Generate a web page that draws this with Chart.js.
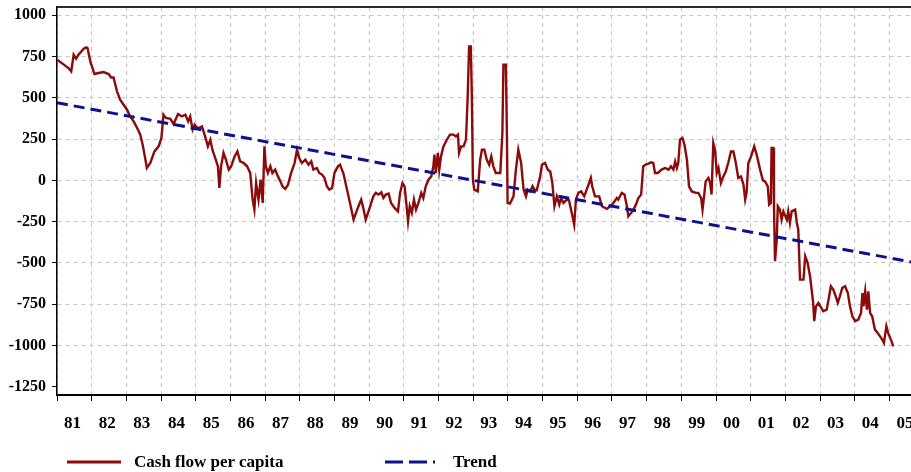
<!DOCTYPE html>
<html>
<head>
<meta charset="utf-8">
<script src="https://cdn.jsdelivr.net/npm/chart.js@4.4.1/dist/chart.umd.min.js"></script>
<style>
html,body{margin:0;padding:0;background:#fff;}
#wrap{position:relative;width:911px;height:472px;overflow:hidden;}
#legend{position:absolute;left:0;top:450px;width:911px;height:24px;font:bold 17px "Liberation Serif","Times New Roman",serif;color:#000;}
.item{position:absolute;top:0;height:24px;display:flex;align-items:center;white-space:nowrap;}
.item svg{display:block;}
</style>
</head>
<body>
<div id="wrap">
<canvas id="c" width="911" height="472"></canvas>
<div id="legend">
  <div class="item" style="left:67px"><svg width="54" height="6"><line x1="0" y1="3" x2="54" y2="3" stroke="#8b0a0a" stroke-width="3"/></svg><span style="margin-left:13px">Cash flow per capita</span></div>
  <div class="item" style="left:385px"><svg width="50" height="6"><line x1="0" y1="3" x2="50" y2="3" stroke="#0d128c" stroke-width="3" stroke-dasharray="18 6 18 6 3 6"/></svg><span style="margin-left:18px">Trend</span></div>
</div>
</div>
<script>
// ---- data ----
const years = [
1981.00,1981.14,1981.33,1981.41,1981.48,1981.55,1981.62,1981.77,1981.84,1981.88,1981.96,
1982.08,1982.20,1982.34,1982.49,1982.56,1982.63,1982.73,1982.82,1982.92,
1983.02,1983.11,1983.21,1983.31,1983.40,1983.47,1983.54,1983.59,1983.69,1983.81,1983.93,
1984.01,1984.07,1984.14,1984.27,1984.36,1984.49,1984.60,1984.70,1984.78,1984.84,1984.91,1984.97,
1985.03,1985.08,1985.18,1985.27,1985.35,1985.42,1985.48,1985.56,1985.64,1985.68,1985.73,1985.80,1985.87,1985.95,
1986.02,1986.12,1986.20,1986.28,1986.38,1986.48,1986.57,1986.64,1986.69,1986.74,1986.81,1986.87,1986.93,1986.98,
1987.02,1987.08,1987.15,1987.21,1987.29,1987.37,1987.44,1987.50,1987.58,1987.66,1987.75,1987.85,1987.92,1987.98,
1988.06,1988.16,1988.25,1988.33,1988.39,1988.49,1988.56,1988.64,1988.71,1988.78,1988.85,1988.93,
1989.00,1989.10,1989.16,1989.26,1989.36,1989.45,1989.55,1989.62,1989.69,1989.77,1989.84,1989.90,1989.98,
1990.06,1990.12,1990.19,1990.27,1990.35,1990.41,1990.48,1990.56,1990.63,1990.73,1990.83,1990.89,1990.96,
1991.02,1991.06,1991.12,1991.17,1991.23,1991.29,1991.35,1991.42,1991.50,1991.56,1991.63,1991.71,1991.79,1991.85,1991.88,1991.92,1991.98,
1992.02,1992.07,1992.14,1992.24,1992.33,1992.43,1992.50,1992.56,1992.59,1992.65,1992.72,1992.79,1992.84,1992.88,1992.93,1992.96,1992.99,
1993.03,1993.13,1993.20,1993.25,1993.32,1993.39,1993.46,1993.52,1993.58,1993.65,1993.78,1993.84,1993.87,1993.94,1993.97,1993.99,
1994.06,1994.16,1994.23,1994.30,1994.38,1994.45,1994.52,1994.57,1994.64,1994.71,1994.76,1994.83,1994.93,1994.98,
1995.07,1995.15,1995.22,1995.28,1995.34,1995.41,1995.48,1995.53,1995.60,1995.70,1995.76,1995.84,1995.91,1995.96,
1996.03,1996.11,1996.20,1996.27,1996.34,1996.39,1996.43,1996.51,1996.63,1996.71,1996.85,1996.95,
1997.04,1997.14,1997.18,1997.28,1997.36,1997.43,1997.47,1997.55,1997.62,1997.69,1997.76,1997.84,1997.90,1997.97,
1998.05,1998.13,1998.19,1998.24,1998.32,1998.43,1998.53,1998.63,1998.70,1998.77,1998.82,1998.87,1998.91,1998.96,
1999.03,1999.09,1999.16,1999.22,1999.30,1999.42,1999.49,1999.57,1999.61,1999.66,1999.70,1999.78,1999.83,1999.87,1999.92,1999.97,
2000.02,2000.07,2000.14,2000.21,2000.28,2000.35,2000.43,2000.50,2000.57,2000.64,2000.72,2000.79,2000.84,2000.88,2000.93,
2001.01,2001.10,2001.17,2001.27,2001.35,2001.41,2001.49,2001.53,2001.58,2001.60,2001.65,2001.67,2001.70,2001.75,2001.78,2001.84,2001.89,2001.94,
2002.04,2002.08,2002.13,2002.18,2002.28,2002.33,2002.37,2002.42,2002.52,2002.57,2002.64,2002.71,2002.80,2002.83,2002.88,2002.95,
2003.09,2003.19,2003.26,2003.31,2003.38,2003.45,2003.51,2003.57,2003.64,2003.72,2003.80,2003.86,2003.93,
2004.01,2004.10,2004.18,2004.22,2004.25,2004.30,2004.35,2004.39,2004.44,2004.50,2004.58,2004.66,2004.79,2004.84,2004.91,2004.96,
2005.06,2005.11
];
const cashFlow = [
731,710,680,660,761,737,761,797,805,801,720,
644,650,656,644,623,623,539,488,458,
428,387,357,317,277,216,136,75,105,175,206,
257,398,378,373,341,402,387,398,357,387,307,337,
320,317,327,266,206,246,186,136,85,-46,85,166,125,65,
85,145,175,115,105,85,45,-117,-177,-16,-117,4,-137,206,
85,45,85,45,65,24,-6,-36,-52,-26,45,105,186,136,
105,125,95,115,65,75,45,35,15,-36,-56,-46,
45,85,95,40,-56,-140,-238,-197,-157,-117,-177,-238,-188,
-137,-97,-76,-86,-72,-107,-86,-80,-137,-167,-188,-76,-16,
-36,-117,-248,-157,-197,-117,-177,-137,-76,-107,-36,4,24,85,156,45,166,
65,145,206,246,277,277,266,277,166,206,206,246,508,811,811,508,4,
-56,-67,125,186,186,125,95,145,85,45,45,287,700,700,287,-137,
-141,-97,65,186,105,-56,-97,-56,-67,-36,-56,-60,24,95,
105,65,54,-16,-157,-97,-147,-107,-137,-117,-120,-197,-268,-117,
-76,-67,-97,-56,-16,15,-36,-97,-97,-157,-173,-157,
-137,-107,-117,-76,-86,-157,-218,-197,-177,-147,-107,-86,85,95,
101,109,105,45,45,65,75,65,85,65,115,75,105,246,
257,216,125,-36,-67,-76,-76,-107,-177,-86,-6,15,-16,-86,226,186,
45,75,-16,24,54,105,175,175,105,15,24,-26,-117,-76,105,
145,206,156,65,0,-6,-36,-147,-137,196,196,-157,-490,-359,-157,-177,-238,-188,
-238,-188,-258,-188,-177,-258,-298,-601,-601,-460,-500,-581,-742,-853,-763,-742,
-793,-783,-702,-641,-661,-702,-742,-702,-651,-641,-682,-763,-823,
-853,-843,-803,-682,-763,-672,-783,-672,-803,-823,-904,-924,-964,-984,-884,-924,
-975,-1005
];
const trendYears = [1981, 2005.62];
const trendValues = [470, -494];
const xTickYears = [1981,1982,1983,1984,1985,1986,1987,1988,1989,1990,1991,1992,1993,1994,1995,1996,1997,1998,1999,2000,2001,2002,2003,2004,2005];
const xTickLabels = ['81','82','83','84','85','86','87','88','89','90','91','92','93','94','95','96','97','98','99','00','01','02','03','04','05'];
const yTickValues = [-1250,-1000,-750,-500,-250,0,250,500,750,1000];
const seriesNames = ['Cash flow per capita','Trend'];

// ---- chart ----
const FONT = '"Liberation Serif", "Times New Roman", serif';
const topBorder = {
  id: 'topBorder',
  afterDraw(chart) {
    const {ctx, chartArea} = chart;
    ctx.save();
    ctx.strokeStyle = '#2a2a2a';
    ctx.lineWidth = 2;
    ctx.beginPath();
    ctx.moveTo(chartArea.left, chartArea.top);
    ctx.lineTo(chartArea.right, chartArea.top);
    ctx.stroke();
    ctx.restore();
  }
};
const gridColor = '#c6c6c6';
new Chart(document.getElementById('c'), {
  type: 'line',
  data: {
    datasets: [
      {
        label: seriesNames[0],
        data: years.map((x, i) => ({x, y: cashFlow[i]})),
        borderColor: '#8b0a0a',
        borderWidth: 2.4,
        pointRadius: 0,
        tension: 0,
        order: 2
      },
      {
        label: seriesNames[1],
        data: trendYears.map((x, i) => ({x, y: trendValues[i]})),
        borderColor: '#0d128c',
        borderWidth: 3,
        borderDash: [11, 6],
        pointRadius: 0,
        tension: 0,
        order: 1
      }
    ]
  },
  options: {
    responsive: false,
    animation: false,
    devicePixelRatio: 1,
    layout: {padding: {top: 7, right: 0, bottom: 37, left: 0}},
    plugins: {legend: {display: false}, tooltip: {enabled: false}},
    scales: {
      x: {
        type: 'linear',
        min: 1981,
        max: 2005.62,
        afterBuildTicks: s => { s.ticks = xTickYears.map(v => ({value: v})); },
        afterFit: s => { s.height = 40; s.paddingLeft = 0; s.paddingRight = 0; },
        ticks: {
          autoSkip: false,
          maxRotation: 0,
          minRotation: 0,
          padding: 12,
          labelOffset: 15.5,
          color: '#000',
          font: {family: FONT, size: 17, weight: 'bold'},
          callback: (v, i) => xTickLabels[i]
        },
        grid: {
          color: gridColor,
          lineWidth: 1,
          tickColor: '#000',
          tickLength: 6,
          tickWidth: 1,
          tickBorderDash: []
        },
        border: {display: true, color: '#000', width: 2, dash: [4, 4]}
      },
      y: {
        type: 'linear',
        min: -1300,
        max: 1050,
        afterBuildTicks: s => { s.ticks = yTickValues.map(v => ({value: v})); },
        afterFit: s => { s.width = 57; s.paddingTop = 0; s.paddingBottom = 0; },
        ticks: {
          padding: 6,
          color: '#000',
          font: {family: FONT, size: 16, weight: 'bold'},
          callback: v => String(v)
        },
        grid: {
          color: c => (c.tick && c.tick.value === -1250) ? 'rgba(0,0,0,0)' : gridColor,
          lineWidth: 1,
          tickColor: '#000',
          tickLength: 5,
          tickWidth: 1,
          tickBorderDash: []
        },
        border: {display: true, color: '#000', width: 1.5, dash: [4, 4]}
      }
    }
  },
  plugins: [topBorder]
});
</script>
</body>
</html>
